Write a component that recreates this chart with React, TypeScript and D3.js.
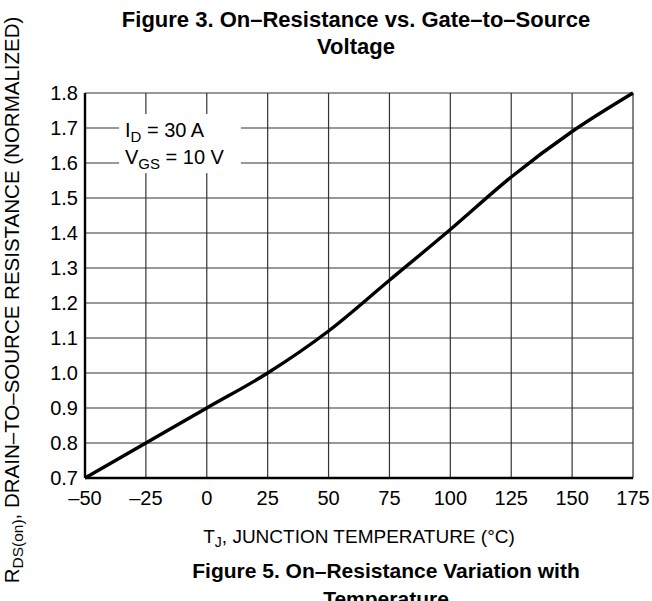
import { useRef, useEffect } from 'react';
import * as d3 from 'd3';

const temps = [-50, -25, 0, 25, 50, 75, 100, 125, 150, 175];
const rdsNorm = [0.7, 0.8, 0.9, 1.0, 1.12, 1.265, 1.41, 1.56, 1.69, 1.8];
const xTicks = [-50, -25, 0, 25, 50, 75, 100, 125, 150, 175];
const yTicks = [0.7, 0.8, 0.9, 1.0, 1.1, 1.2, 1.3, 1.4, 1.5, 1.6, 1.7, 1.8];

const FONT = '"Liberation Sans", Arial, Helvetica, sans-serif';

export default function App() {
  const svgRef = useRef<SVGSVGElement>(null);

  useEffect(() => {
    if (!svgRef.current) return;
    const W = 652, H = 601;
    const margin = { top: 93, right: 19, bottom: 123, left: 85 };
    const width = W - margin.left - margin.right;
    const height = H - margin.top - margin.bottom;

    const svg = d3.select(svgRef.current);
    svg.selectAll('*').remove();

    svg.append('rect').attr('width', W).attr('height', H).attr('fill', '#fff');

    const g = svg.append('g').attr('transform', `translate(${margin.left},${margin.top})`);

    const x = d3.scaleLinear().domain([-50, 175]).range([0, width]);
    const y = d3.scaleLinear().domain([0.7, 1.8]).range([height, 0]);

    // grid
    g.append('g')
      .selectAll('line')
      .data(xTicks)
      .join('line')
      .attr('x1', d => x(d)).attr('x2', d => x(d))
      .attr('y1', 0).attr('y2', height)
      .attr('stroke', '#333').attr('stroke-width', 1.2);
    g.append('g')
      .selectAll('line')
      .data(yTicks)
      .join('line')
      .attr('x1', 0).attr('x2', width)
      .attr('y1', d => y(d)).attr('y2', d => y(d))
      .attr('stroke', '#333').attr('stroke-width', 1.2);

    // frame: heavier left/bottom
    g.append('line').attr('x1', 0).attr('x2', 0).attr('y1', 0).attr('y2', height).attr('stroke', '#000').attr('stroke-width', 2.4);
    g.append('line').attr('x1', 0).attr('x2', width).attr('y1', height).attr('y2', height).attr('stroke', '#000').attr('stroke-width', 2.4);

    // tick labels
    g.append('g')
      .selectAll('text')
      .data(yTicks)
      .join('text')
      .attr('x', -7)
      .attr('y', d => y(d))
      .attr('dy', '0.36em')
      .attr('text-anchor', 'end')
      .attr('font-family', FONT)
      .attr('font-size', 20)
      .attr('fill', '#000')
      .text(d => d.toFixed(1));
    g.append('g')
      .selectAll('text')
      .data(xTicks)
      .join('text')
      .attr('x', d => x(d))
      .attr('y', height + 27)
      .attr('text-anchor', 'middle')
      .attr('font-family', FONT)
      .attr('font-size', 20)
      .attr('fill', '#000')
      .text(d => (d < 0 ? '\u2013' + Math.abs(d) : String(d)));

    // annotation box
    const note = g.append('g');
    note.append('rect')
      .attr('x', x(-36)).attr('y', y(1.74))
      .attr('width', x(14) - x(-36)).attr('height', y(1.571) - y(1.74))
      .attr('fill', '#fff');
    const t1 = note.append('text')
      .attr('x', x(-33.6)).attr('y', y(1.674))
      .attr('font-family', FONT).attr('font-size', 20).attr('fill', '#000');
    t1.append('tspan').text('I');
    t1.append('tspan').attr('font-size', 15).attr('dy', 5).text('D');
    t1.append('tspan').attr('dy', -5).text(' = 30 A');
    const t2 = note.append('text')
      .attr('x', x(-33.6)).attr('y', y(1.597))
      .attr('font-family', FONT).attr('font-size', 20).attr('fill', '#000');
    t2.append('tspan').text('V');
    t2.append('tspan').attr('font-size', 15).attr('dy', 5).text('GS');
    t2.append('tspan').attr('dy', -5).text(' = 10 V');

    // curve
    const line = d3.line<number>()
      .x((_, i) => x(temps[i]))
      .y(d => y(d))
      .curve(d3.curveMonotoneX);
    g.append('path')
      .attr('d', line(rdsNorm))
      .attr('fill', 'none')
      .attr('stroke', '#000')
      .attr('stroke-width', 3.4);

    // axis titles
    const xt = svg.append('text')
      .attr('x', margin.left + width / 2)
      .attr('y', 543)
      .attr('text-anchor', 'middle')
      .attr('font-family', FONT)
      .attr('font-size', 19)
      .attr('fill', '#000');
    xt.append('tspan').text('T');
    xt.append('tspan').attr('font-size', 14).attr('dy', 4).text('J');
    xt.append('tspan').attr('dy', -4).text(', JUNCTION TEMPERATURE (\u00B0C)');

    const yt = svg.append('text')
      .attr('transform', `translate(19,${300}) rotate(-90)`)
      .attr('text-anchor', 'middle')
      .attr('font-family', FONT)
      .attr('font-size', 20.5)
      .attr('fill', '#000');
    yt.append('tspan').text('R');
    yt.append('tspan').attr('font-size', 15.5).attr('dy', 4).text('DS(on)');
    yt.append('tspan').attr('dy', -4).text(', DRAIN\u2013TO\u2013SOURCE RESISTANCE (NORMALIZED)');

    // figure titles
    const title = (txt: string, cx: number, yy: number, fs: number) =>
      svg.append('text')
        .attr('x', cx).attr('y', yy)
        .attr('text-anchor', 'middle')
        .attr('font-family', FONT)
        .attr('font-weight', 'bold')
        .attr('font-size', fs)
        .attr('fill', '#000')
        .text(txt);
    title('Figure 3. On\u2013Resistance vs. Gate\u2013to\u2013Source', 356, 27, 22);
    title('Voltage', 356, 54, 22);
    title('Figure 5. On\u2013Resistance Variation with', 386, 578, 21);
    title('Temperature', 386, 606, 21);
  }, []);

  return (
    <svg
      ref={svgRef}
      width={652}
      height={601}
      style={{ position: 'absolute', left: 0, top: 0, display: 'block' }}
    />
  );
}
